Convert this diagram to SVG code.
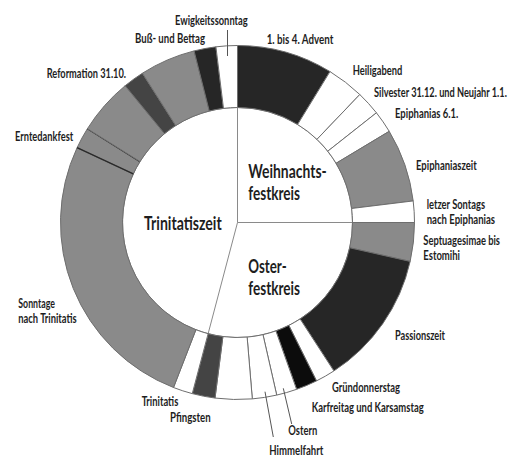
<svg xmlns="http://www.w3.org/2000/svg" width="509" height="457" viewBox="0 0 509 457">
<style>
.seg{stroke:#6e6e6e;stroke-width:1;stroke-linejoin:round}
.w{fill:#ffffff}
.g{fill:#8a8a8a}
.d{fill:#262626}
.m{fill:#444444}
.k{fill:#0c0c0c}
.div{stroke:#8a8a8a;stroke-width:1;fill:none}
.hard{stroke:#2a2a2a;stroke-width:1.4;fill:none}
.lbl{font-family:Lato,"Liberation Sans",sans-serif;font-weight:700;font-size:12.5px;fill:#1e1e1e}
.big{font-family:Lato,"Liberation Sans",sans-serif;font-weight:700;font-size:18.5px;fill:#1e1e1e}
.lead{stroke:#555555;stroke-width:1;fill:none}
</style>
<rect width="509" height="457" fill="#ffffff"/>
<g id="centre">
<circle cx="237.5" cy="222.5" r="115" fill="#ffffff" stroke="#8a8a8a"/>
<g id="weihnachtsfestkreis">
<text class="big" x="248.3" y="178" textLength="78.4" lengthAdjust="spacingAndGlyphs">Weihnachts-</text>
<text class="big" x="248.3" y="200" textLength="51.7" lengthAdjust="spacingAndGlyphs">festkreis</text>
</g>
<g id="osterfestkreis">
<text class="big" x="248.3" y="273" textLength="38.4" lengthAdjust="spacingAndGlyphs">Oster-</text>
<text class="big" x="248.3" y="295" textLength="51.7" lengthAdjust="spacingAndGlyphs">festkreis</text>
</g>
<g id="trinitatiszeit">
<text class="big" x="144" y="230" textLength="77.7" lengthAdjust="spacingAndGlyphs">Trinitatiszeit</text>
</g>
<path class="div" d="M237.5,222.5 L237.5,107.5 M237.5,222.5 L352.5,222.5 M237.5,222.5 L208.13,333.68"/>
</g>
<g id="advent">
<path class="seg d" d="M237.5,45.5 A177,177 0 0 1 329.98,71.59 L297.59,124.45 A115,115 0 0 0 237.5,107.5 Z"/>
<text class="lbl" x="266.7" y="43.5" textLength="66.6" lengthAdjust="spacingAndGlyphs">1. bis 4. Advent</text>
</g>
<g id="heiligabend">
<path class="seg w" d="M329.98,71.59 A177,177 0 0 1 359.79,94.53 L316.95,139.35 A115,115 0 0 0 297.59,124.45 Z"/>
<text class="lbl" x="352.7" y="75" textLength="49.6" lengthAdjust="spacingAndGlyphs">Heiligabend</text>
</g>
<g id="silvester">
<path class="seg w" d="M359.79,94.53 A177,177 0 0 1 376.41,112.80 L327.75,151.22 A115,115 0 0 0 316.95,139.35 Z"/>
<text class="lbl" transform="translate(374 97) scale(0.72 1)" textLength="184.5" lengthAdjust="spacingAndGlyphs">Silvester 31.12. und Neujahr 1.1.</text>
</g>
<g id="epiphanias">
<path class="seg w" d="M376.41,112.80 A177,177 0 0 1 389.22,131.34 L336.08,163.27 A115,115 0 0 0 327.75,151.22 Z"/>
<text class="lbl" x="395" y="118" textLength="63.3" lengthAdjust="spacingAndGlyphs">Epiphanias 6.1.</text>
</g>
<g id="epiphaniaszeit">
<path class="seg g" d="M389.22,131.34 A177,177 0 0 1 413.18,200.93 L351.64,208.48 A115,115 0 0 0 336.08,163.27 Z"/>
<text class="lbl" x="416" y="170" textLength="60.7" lengthAdjust="spacingAndGlyphs">Epiphaniaszeit</text>
</g>
<g id="letzter-sonntag">
<path class="seg w" d="M413.18,200.93 A177,177 0 0 1 414.5,222.5 L352.5,222.5 A115,115 0 0 0 351.64,208.48 Z"/>
<text class="lbl" transform="translate(426.7 209) scale(0.72 1)" textLength="81" lengthAdjust="spacingAndGlyphs">letzer Sontags</text>
<text class="lbl" transform="translate(426.7 224) scale(0.72 1)" textLength="94.9" lengthAdjust="spacingAndGlyphs">nach Epiphanias</text>
</g>
<g id="septuagesimae">
<path class="seg g" d="M414.5,222.5 A177,177 0 0 1 410.16,261.41 L349.68,247.78 A115,115 0 0 0 352.5,222.5 Z"/>
<text class="lbl" transform="translate(423.3 245) scale(0.72 1)" textLength="106.5" lengthAdjust="spacingAndGlyphs">Septuagesimae bis</text>
<text class="lbl" transform="translate(423.3 260) scale(0.72 1)" textLength="51" lengthAdjust="spacingAndGlyphs">Estomihi</text>
</g>
<g id="passionszeit">
<path class="seg d" d="M410.16,261.41 A177,177 0 0 1 333.90,370.95 L300.13,318.95 A115,115 0 0 0 349.68,247.78 Z"/>
<text class="lbl" x="395" y="340" textLength="50" lengthAdjust="spacingAndGlyphs">Passionszeit</text>
</g>
<g id="gruendonnerstag">
<path class="seg w" d="M333.90,370.95 A177,177 0 0 1 316.48,380.90 L288.81,325.41 A115,115 0 0 0 300.13,318.95 Z"/>
<text class="lbl" x="332" y="392" textLength="68" lengthAdjust="spacingAndGlyphs">Gründonnerstag</text>
</g>
<g id="karfreitag">
<path class="seg k" d="M316.48,380.90 A177,177 0 0 1 296.58,389.34 L275.89,330.90 A115,115 0 0 0 288.81,325.41 Z"/>
<text class="lbl" x="311.7" y="412" textLength="112" lengthAdjust="spacingAndGlyphs">Karfreitag und Karsamstag</text>
</g>
<g id="ostern">
<path class="seg w" d="M296.58,389.34 A177,177 0 0 1 276.71,395.09 L262.97,334.64 A115,115 0 0 0 275.89,330.90 Z"/>
<text class="lbl" x="288.3" y="435" textLength="29" lengthAdjust="spacingAndGlyphs">Ostern</text>
</g>
<g id="himmelfahrt">
<path class="seg w" d="M276.71,395.09 A177,177 0 0 1 252.31,398.88 L247.13,337.10 A115,115 0 0 0 262.97,334.64 Z"/>
<text class="lbl" x="269.3" y="455" textLength="54" lengthAdjust="spacingAndGlyphs">Himmelfahrt</text>
</g>
<g id="exaudi">
<path class="seg w" d="M252.31,398.88 A177,177 0 0 1 215.00,398.07 L222.88,336.57 A115,115 0 0 0 247.13,337.10 Z"/>
</g>
<g id="pfingsten">
<path class="seg m" d="M215.00,398.07 A177,177 0 0 1 192.29,393.62 L208.13,333.68 A115,115 0 0 0 222.88,336.57 Z"/>
<text class="lbl" x="170" y="422" textLength="40.7" lengthAdjust="spacingAndGlyphs">Pfingsten</text>
</g>
<g id="trinitatis">
<path class="seg w" d="M192.29,393.62 A177,177 0 0 1 173.50,387.52 L195.92,329.71 A115,115 0 0 0 208.13,333.68 Z"/>
<text class="lbl" x="141.7" y="406" textLength="36.6" lengthAdjust="spacingAndGlyphs">Trinitatis</text>
</g>
<g id="sonntage-nach-trinitatis">
<path class="seg g" d="M173.50,387.52 A177,177 0 0 1 77.08,147.70 L133.28,173.90 A115,115 0 0 0 195.92,329.71 Z"/>
<text class="lbl" x="18.3" y="308" textLength="36.7" lengthAdjust="spacingAndGlyphs">Sonntage</text>
<text class="lbl" x="18.3" y="323" textLength="58.4" lengthAdjust="spacingAndGlyphs">nach Trinitatis</text>
</g>
<g id="erntedankfest">
<path class="seg g" d="M77.08,147.70 A177,177 0 0 1 87.40,128.71 L139.98,161.56 A115,115 0 0 0 133.28,173.90 Z"/>
<path class="hard" d="M77.08,147.70 L133.28,173.90 M87.40,128.71 L139.98,161.56"/>
<text class="lbl" x="15" y="141" textLength="58.3" lengthAdjust="spacingAndGlyphs">Erntedankfest</text>
</g>
<g id="sonntage-vor-reformation">
<path class="seg g" d="M87.40,128.71 A177,177 0 0 1 125.16,85.73 L164.51,133.64 A115,115 0 0 0 139.98,161.56 Z"/>
</g>
<g id="reformation">
<path class="seg m" d="M125.16,85.73 A177,177 0 0 1 142.40,73.22 L175.71,125.51 A115,115 0 0 0 164.51,133.64 Z"/>
<text class="lbl" x="46.7" y="78" textLength="79.3" lengthAdjust="spacingAndGlyphs">Reformation 31.10.</text>
</g>
<g id="sonntage-vor-busstag">
<path class="seg g" d="M142.40,73.22 A177,177 0 0 1 194.08,50.92 L209.29,111.02 A115,115 0 0 0 175.71,125.51 Z"/>
</g>
<g id="buss-und-bettag">
<path class="seg d" d="M194.08,50.92 A177,177 0 0 1 215.92,46.83 L223.48,108.36 A115,115 0 0 0 209.29,111.02 Z"/>
<text class="lbl" x="135" y="43" textLength="70" lengthAdjust="spacingAndGlyphs">Buß- und Bettag</text>
</g>
<g id="ewigkeitssonntag">
<path class="seg w" d="M215.92,46.83 A177,177 0 0 1 237.5,45.5 L237.5,107.5 A115,115 0 0 0 223.48,108.36 Z"/>
<text class="lbl" x="175" y="25" textLength="72.7" lengthAdjust="spacingAndGlyphs">Ewigkeitssonntag</text>
</g>
<g id="connectors">
<line class="lead" x1="227.5" y1="30" x2="227.5" y2="56"/>
<line class="lead" x1="283.3" y1="388.3" x2="291.7" y2="424"/>
<line class="lead" x1="265" y1="391.7" x2="273.3" y2="437"/>
</g>
</svg>
